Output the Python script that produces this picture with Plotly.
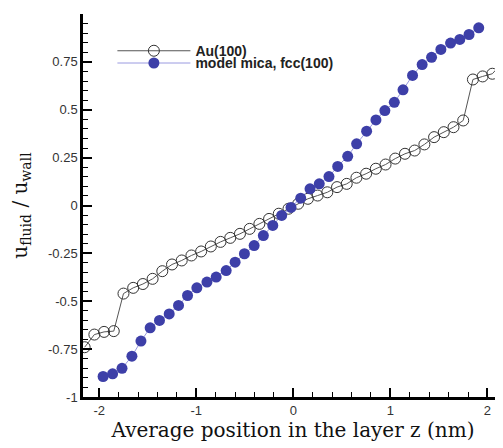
import plotly.graph_objects as go

# Au(100) wall, open circles
au_z = [-2.15, -2.05, -1.95, -1.85, -1.75, -1.65, -1.55, -1.45, -1.35, -1.25,
        -1.15, -1.05, -0.95, -0.85, -0.75, -0.65, -0.55, -0.45, -0.35, -0.25,
        -0.15, -0.05, 0.05, 0.15, 0.25, 0.35, 0.45, 0.55, 0.65, 0.75,
        0.85, 0.95, 1.05, 1.15, 1.25, 1.35, 1.45, 1.55, 1.65, 1.75,
        1.85, 1.95, 2.05, 2.15]
au_u = [-0.74, -0.674, -0.66, -0.656, -0.46, -0.43, -0.41, -0.383, -0.343, -0.308,
        -0.287, -0.261, -0.240, -0.214, -0.19, -0.169, -0.148, -0.122, -0.096, -0.07,
        -0.043, -0.017, 0.009, 0.035, 0.052, 0.069, 0.096, 0.113, 0.145, 0.166,
        0.192, 0.214, 0.245, 0.27, 0.287, 0.319, 0.357, 0.383, 0.409, 0.444,
        0.658, 0.674, 0.688, 0.743]

# model mica, fcc(100) wall, filled circles
mica_z = [-1.96, -1.862, -1.765, -1.663, -1.57, -1.475, -1.379, -1.279, -1.183, -1.09,
          -0.994, -0.89, -0.795, -0.692, -0.60, -0.504, -0.404, -0.309, -0.212, -0.12,
          -0.024, 0.076, 0.172, 0.267, 0.367, 0.457, 0.56, 0.652, 0.755, 0.851,
          0.943, 1.04, 1.13, 1.228, 1.327, 1.424, 1.52, 1.62, 1.715, 1.81, 1.91]
mica_u = [-0.893, -0.879, -0.85, -0.787, -0.708, -0.639, -0.60, -0.566, -0.522, -0.47,
          -0.43, -0.40, -0.374, -0.34, -0.296, -0.252, -0.209, -0.157, -0.104, -0.052,
          -0.01, 0.038, 0.087, 0.113, 0.151, 0.204, 0.257, 0.322, 0.388, 0.447,
          0.496, 0.539, 0.604, 0.679, 0.736, 0.774, 0.815, 0.848, 0.867, 0.893, 0.928]

x_ticks = [-2, -1, 0, 1, 2]
x_labels = ["-2", "-1", "0", "1", "2"]
y_ticks = [-1, -0.75, -0.5, -0.25, 0, 0.25, 0.5, 0.75, 1]
y_labels = ["-1", "-0.75", "-0.5", "-0.25", "0", "0.25", "0.5", "0.75", "1"]

fig = go.Figure()

fig.add_trace(go.Scatter(
    x=au_z, y=au_u, name="Au(100)", mode="lines+markers", legend="legend",
    line=dict(color="#555555", width=1),
    marker=dict(symbol="circle-open", size=11, color="#333333", line=dict(width=1)),
))
fig.add_trace(go.Scatter(
    x=mica_z, y=mica_u, name="model mica, fcc(100)", mode="lines+markers", legend="legend2",
    line=dict(color="#9a9ae0", width=1),
    marker=dict(symbol="circle", size=11, color="#3d3fa8"),
))

axis_common = dict(
    showline=True, linecolor="black", linewidth=2.5,
    ticks="inside", ticklen=9, tickwidth=2, tickcolor="black",
    showgrid=False, zeroline=False, mirror=False, automargin=False,
    tickfont=dict(family="Liberation Sans, Arial", size=13, color="#333333"),
)

legend_common = dict(
    xanchor="left", yanchor="middle",
    bgcolor="rgba(0,0,0,0)", itemwidth=73,
    font=dict(family="Liberation Sans, Arial", size=14, color="#222222", weight="bold"),
)

# the page body adds an 8px margin, so the figure is drawn 8px smaller
fig.update_layout(
    width=495, height=440,
    margin=dict(l=75, r=0, t=6, b=51),
    plot_bgcolor="white", paper_bgcolor="white",
    showlegend=True,
    legend=dict(legend_common, x=0.07, y=0.903),
    legend2=dict(legend_common, x=0.07, y=0.871),
    xaxis=dict(
        axis_common, range=[-2.167, 2.16],
        tickvals=x_ticks, ticktext=x_labels,
        minor=dict(dtick=0.2, tick0=0, ticks="inside", ticklen=5, tickwidth=1, tickcolor="black"),
        title=dict(text="Average position in the layer z (nm)", standoff=0,
                   font=dict(family="DejaVu Serif", size=20, color="#111111")),
    ),
    yaxis=dict(
        axis_common, range=[-1, 1],
        tickvals=y_ticks, ticktext=y_labels,
        minor=dict(dtick=0.05, tick0=0, ticks="inside", ticklen=5, tickwidth=1, tickcolor="black"),
        title=dict(text="u<sub>fluid</sub> / u<sub>wall</sub>", standoff=27,
                   font=dict(family="DejaVu Serif", size=20, color="#111111")),
    ),
)

fig.write_html("out.html")
